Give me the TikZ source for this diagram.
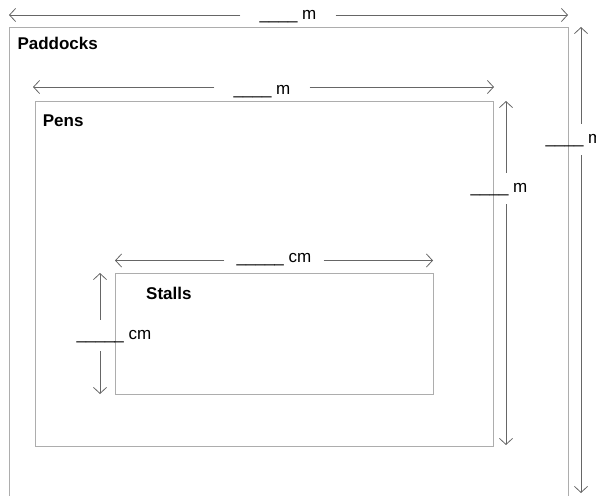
\documentclass[tikz,border=0pt]{standalone}
\usepackage{fontspec}
\setmainfont{Liberation Sans}
\usetikzlibrary{arrows.meta}

\begin{document}
\begin{tikzpicture}[
  x=1pt, y=-1pt,
  area/.style={draw=black!32, line width=0.9pt, inner sep=0pt, anchor=north west},
  title/.style={font=\fontsize{17}{20}\selectfont\bfseries, inner sep=0pt, anchor=base west},
  dimtext/.style={font=\fontsize{17}{20}\selectfont, text height=11pt, text depth=3pt,
                  inner ysep=8.5pt, inner xsep=19pt, anchor=base},
  dim/.style={draw=black!60, line width=0.8pt, -{Straight Barb[length=6pt, width=13pt]}}
]
\clip (0,0) rectangle (596,495);

% areas
\node[area, minimum width=558.5pt, minimum height=500pt] (paddocks) at (9,27) {};
\node[area, minimum width=457.5pt, minimum height=344.5pt] (pens) at (35,101) {};
\node[area, minimum width=318pt, minimum height=121pt] (stalls) at (115,273) {};

\node[title] (paddockslbl) at (17.3,49.3) {Paddocks};
\node[title] (penslbl) at (42.7,126.7) {Pens};
\node[title] (stallslbl) at (146,299.3) {Stalls};

% ends of the dimension arrows
\coordinate (pw1) at (9,15);    \coordinate (pw2) at (568,15);
\coordinate (ph1) at (581,27);  \coordinate (ph2) at (581,493);
\coordinate (nw1) at (33,87);   \coordinate (nw2) at (494,87);
\coordinate (nh1) at (506,101); \coordinate (nh2) at (506,445);
\coordinate (sw1) at (115,260.5); \coordinate (sw2) at (433,260.5);
\coordinate (sh1) at (100,273); \coordinate (sh2) at (100,394);

% blanks
\node[dimtext] (pwlbl) at (288,20) {\_\_\_\_ m};
\node[dimtext] (phlbl) at (574,143.5) {\_\_\_\_ m};
\node[dimtext] (nwlbl) at (262,94) {\_\_\_\_ m};
\node[dimtext] (nhlbl) at (499,192.5) {\_\_\_\_ m};
\node[dimtext, inner xsep=12pt] (swlbl) at (274,262.5) {\_\_\_\_\_ cm};
\node[dimtext] (shlbl) at (114,339.5) {\_\_\_\_\_ cm};

\draw[dim] (pwlbl.west |- pw1) -- (pw1);
\draw[dim] (pwlbl.east |- pw2) -- (pw2);
\draw[dim] (phlbl.north -| ph1) -- (ph1);
\draw[dim] (phlbl.south -| ph2) -- (ph2);
\draw[dim] (nwlbl.west |- nw1) -- (nw1);
\draw[dim] (nwlbl.east |- nw2) -- (nw2);
\draw[dim] (nhlbl.north -| nh1) -- (nh1);
\draw[dim] (nhlbl.south -| nh2) -- (nh2);
\draw[dim] (swlbl.west |- sw1) -- (sw1);
\draw[dim] (swlbl.east |- sw2) -- (sw2);
\draw[dim] (shlbl.north -| sh1) -- (sh1);
\draw[dim] (shlbl.south -| sh2) -- (sh2);
\end{tikzpicture}
\end{document}
